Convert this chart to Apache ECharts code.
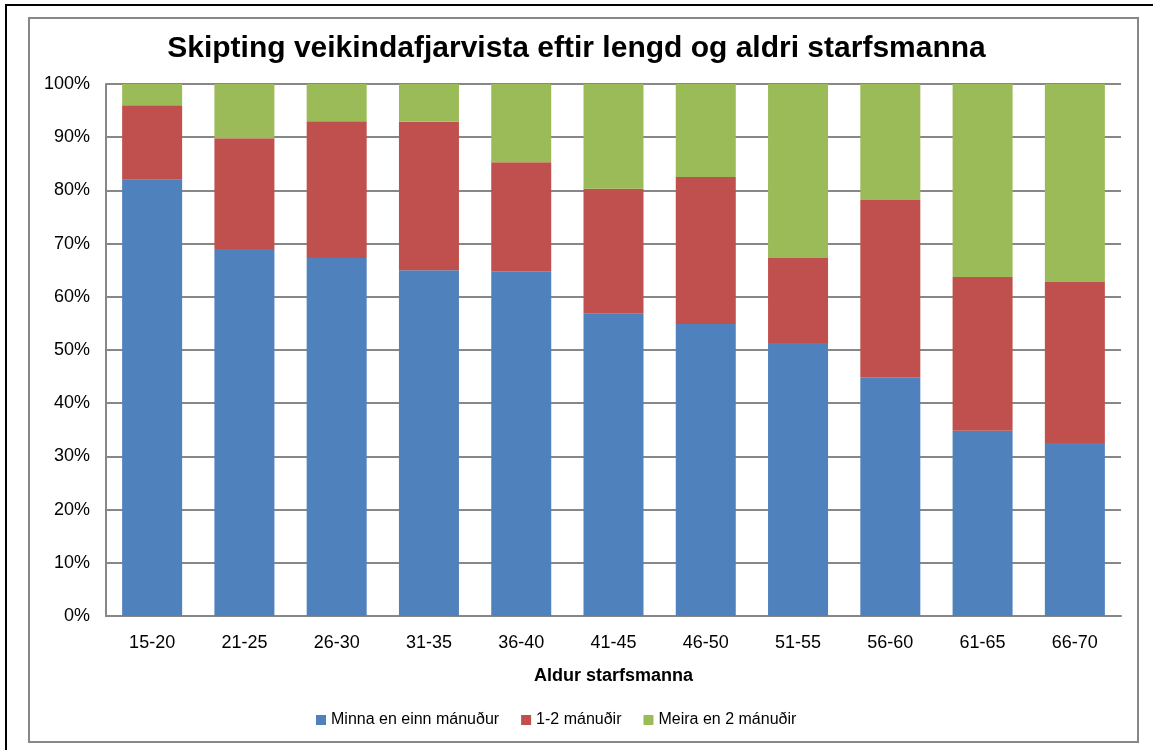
<!DOCTYPE html>
<html>
<head>
<meta charset="utf-8">
<script src="https://cdn.jsdelivr.net/npm/echarts@6/dist/echarts.min.js"></script>
<style>
  html, body { margin: 0; padding: 0; background: #fff; }
  #frame {
    position: absolute; left: 5px; top: 4px; width: 1160px; height: 760px;
    border-left: 2px solid #000; border-top: 2px solid #000;
  }
  #chart { position: absolute; left: 0; top: 0; width: 1153px; height: 750px; }
</style>
</head>
<body>
<div id="frame"></div>
<div id="chart"></div>
<script>
// aldurshópar
const categories = ["15-20", "21-25", "26-30", "31-35", "36-40", "41-45", "46-50", "51-55", "56-60", "61-65", "66-70"];
// hlutföll í %
const minnaEnEinn = [82.0, 69.0, 67.3, 65.0, 64.8, 56.8, 54.9, 51.3, 44.9, 34.8, 32.5];
const einnTilTveir = [14.0, 20.8, 25.7, 27.9, 20.5, 23.5, 27.6, 16.0, 33.3, 28.9, 30.3];
const meiraEnTveir = [4.0, 10.2, 7.0, 7.1, 14.7, 19.7, 17.5, 32.7, 21.8, 36.3, 37.2];
const seriesNames = ["Minna en einn mánuður", "1-2 mánuðir", "Meira en 2 mánuðir"];
const yTicks = { min: 0, max: 100, interval: 10 };

const font = "'Liberation Sans', Arial, sans-serif";
const gray = "#878787";

const chart = echarts.init(document.getElementById("chart"));
const option = {
  animation: false,
  color: ["#4F81BD", "#C0504D", "#9BBB59"],
  textStyle: { fontFamily: font },
  title: {
    text: "Skipting veikindafjarvista eftir lengd og aldri starfsmanna",
    left: "center",
    top: 34,
    padding: 0,
    textStyle: { fontSize: 30, fontWeight: "bold", color: "#000", fontFamily: font },
  },
  graphic: [
    {
      type: "rect",
      shape: { x: 29, y: 18, width: 1109, height: 724 },
      style: { fill: null, stroke: gray, lineWidth: 2 },
      silent: true,
    },
  ],
  legend: {
    bottom: 17,
    left: 311,
    icon: "rect",
    itemWidth: 10,
    itemHeight: 10,
    itemGap: 22,
    textStyle: { fontSize: 16, color: "#000", fontFamily: font },
    data: seriesNames,
  },
  grid: { left: 106, right: 32, top: 84, bottom: 134 },
  xAxis: {
    type: "category",
    data: categories,
    name: "Aldur starfsmanna",
    nameLocation: "middle",
    nameGap: 51,
    nameTextStyle: { fontSize: 18, fontWeight: "bold", color: "#000", fontFamily: font },
    axisLine: { lineStyle: { color: gray, width: 2 } },
    axisTick: { show: false },
    axisLabel: { fontSize: 18, color: "#000", margin: 18 },
  },
  yAxis: {
    type: "value",
    min: yTicks.min,
    max: yTicks.max,
    interval: yTicks.interval,
    axisLine: { show: true, lineStyle: { color: gray, width: 2 } },
    axisTick: { show: false },
    axisLabel: { fontSize: 18, color: "#000", margin: 16, formatter: "{value}%" },
    splitLine: { lineStyle: { color: gray, width: 2 } },
  },
  series: [
    { name: seriesNames[0], type: "bar", stack: "s", barWidth: 60, data: minnaEnEinn },
    { name: seriesNames[1], type: "bar", stack: "s", barWidth: 60, data: einnTilTveir },
    { name: seriesNames[2], type: "bar", stack: "s", barWidth: 60, data: meiraEnTveir },
  ],
};
chart.setOption(option);
</script>
</body>
</html>
